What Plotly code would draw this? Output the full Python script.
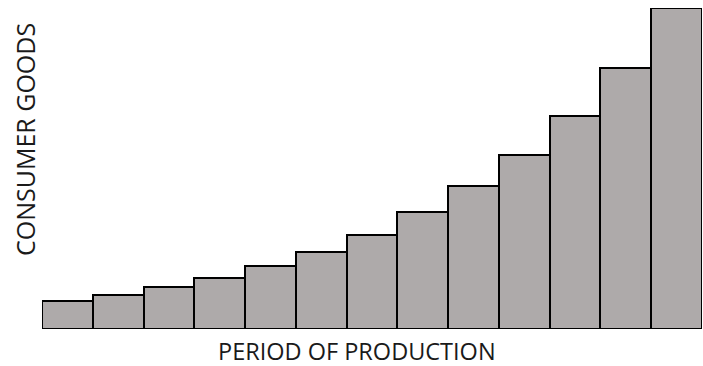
import plotly.graph_objects as go

periods = list(range(1, 14))
consumer_goods = [28, 34, 42, 51, 63, 77, 94, 117, 143, 174, 213, 261, 321]
x_label = "PERIOD OF PRODUCTION"
y_label = "CONSUMER GOODS"

fig = go.Figure(go.Bar(
    x=periods, y=consumer_goods,
    marker=dict(color="#AEAAAA", line=dict(color="black", width=2)),
    width=1,
))

fig.update_layout(
    width=703, height=366,
    margin=dict(l=42, r=1, t=8, b=37),
    paper_bgcolor="white", plot_bgcolor="white",
    bargap=0, showlegend=False,
    xaxis=dict(range=[0.5, 13.5], showticklabels=False, showgrid=False, zeroline=False, ticks=""),
    yaxis=dict(range=[0, 321], showticklabels=False, showgrid=False, zeroline=False, ticks=""),
    font=dict(family="Open Sans", color="#1a1a1a"),
    annotations=[
        dict(text=x_label, xref="paper", yref="paper", x=(357-42)/660, y=-(350.5-329)/321,
             showarrow=False, font=dict(size=23.5), xanchor="center", yanchor="middle", borderpad=0),
        dict(text=y_label, xref="paper", yref="paper", x=-(42-25)/660, y=(329-140)/321,
             showarrow=False, font=dict(size=25), textangle=-90, xanchor="center", yanchor="middle"),
    ],
)

fig.write_html(
    "out.html",
    config={"responsive": False, "displayModeBar": False},
    post_script="document.body.style.margin='0';document.body.style.padding='0';document.body.style.overflow='hidden';document.documentElement.style.overflow='hidden';",
)
